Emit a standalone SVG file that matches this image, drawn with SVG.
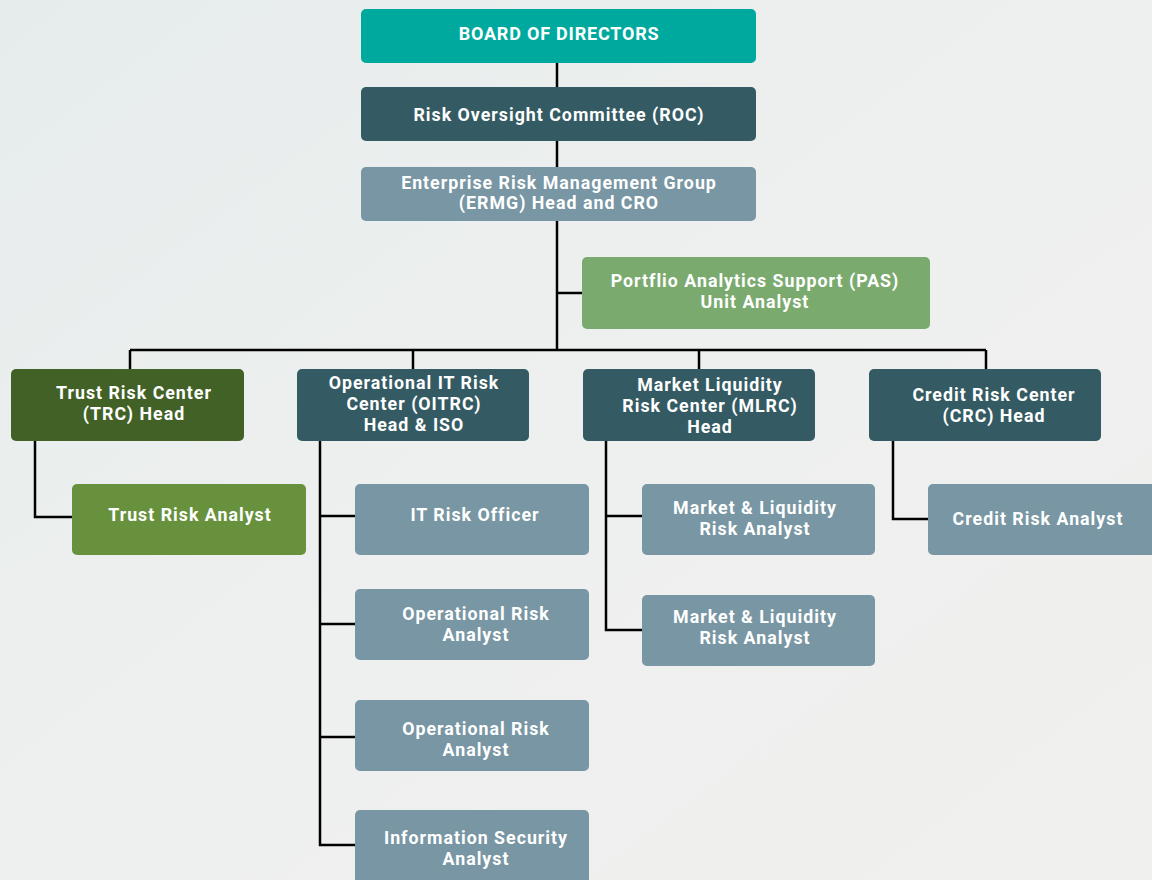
<svg xmlns="http://www.w3.org/2000/svg" width="1152" height="880" viewBox="0 0 1152 880">
<defs>
<linearGradient id="bg" x1="0" y1="0" x2="1" y2="1">
<stop offset="0" stop-color="#e6ecec"/>
<stop offset="0.5" stop-color="#eef0ef"/>
<stop offset="1" stop-color="#f0f0ee"/>
</linearGradient>
<style>
.n{stroke:none}
.teal{fill:#00a99d}
.dark{fill:#345b63}
.slate{fill:#7896a3}
.lgreen{fill:#7baa6f}
.dgreen{fill:#426126}
.mgreen{fill:#67913d}
.t{font-family:"Roboto","Liberation Sans",sans-serif;font-weight:700;font-size:17.8px;letter-spacing:1px;fill:#ffffff;text-anchor:middle}
.caps{font-size:18px;letter-spacing:0.8px}
.c{fill:none;stroke:#000000;stroke-width:2.5}
</style>
</defs>
<rect width="1152" height="880" fill="url(#bg)"/>
<g id="connectors">
<path class="c" d="M557 63V350M557 293H582M130 350H986M130 350V369M413 350V369M699 350V369M986 350V369"/>
<path class="c" d="M35 441V517H72"/>
<path class="c" d="M320 441V845H355M320 516H355M320 624H355M320 737H355"/>
<path class="c" d="M606 441V630H642M606 516H642"/>
<path class="c" d="M893 441V519H928"/>
</g>
<g id="board"><rect class="n teal" x="361" y="9" width="395" height="54" rx="5"/><text class="t caps" x="559" y="40">BOARD OF DIRECTORS</text></g>
<g id="roc"><rect class="n dark" x="361" y="87" width="395" height="54" rx="5"/><text class="t" x="559" y="121">Risk Oversight Committee (ROC)</text></g>
<g id="ermg"><rect class="n slate" x="361" y="167" width="395" height="54" rx="5"/><text class="t" x="559" y="189">Enterprise Risk Management Group</text><text class="t" x="559" y="209">(ERMG) Head and CRO</text></g>
<g id="pas"><rect class="n lgreen" x="582" y="257" width="348" height="72" rx="5"/><text class="t" x="755" y="287">Portflio Analytics Support (PAS)</text><text class="t" x="755" y="308">Unit Analyst</text></g>
<g id="trc"><rect class="n dgreen" x="11" y="369" width="233" height="72" rx="5"/><text class="t" x="134" y="399">Trust Risk Center</text><text class="t" x="134" y="420">(TRC) Head</text></g>
<g id="oitrc"><rect class="n dark" x="297" y="369" width="232" height="72" rx="5"/><text class="t" x="414" y="389">Operational IT Risk</text><text class="t" x="414" y="410">Center (OITRC)</text><text class="t" x="414" y="431">Head &amp; ISO</text></g>
<g id="mlrc"><rect class="n dark" x="583" y="369" width="232" height="72" rx="5"/><text class="t" x="710" y="391">Market Liquidity</text><text class="t" x="710" y="412">Risk Center (MLRC)</text><text class="t" x="710" y="433">Head</text></g>
<g id="crc"><rect class="n dark" x="869" y="369" width="232" height="72" rx="5"/><text class="t" x="994" y="401">Credit Risk Center</text><text class="t" x="994" y="422">(CRC) Head</text></g>
<g id="trust-analyst"><rect class="n mgreen" x="72" y="484" width="234" height="71" rx="5"/><text class="t" x="190" y="521">Trust Risk Analyst</text></g>
<g id="it-risk-officer"><rect class="n slate" x="355" y="484" width="234" height="71" rx="5"/><text class="t" x="475" y="521">IT Risk Officer</text></g>
<g id="op-risk-1"><rect class="n slate" x="355" y="589" width="234" height="71" rx="5"/><text class="t" x="476" y="620">Operational Risk</text><text class="t" x="476" y="641">Analyst</text></g>
<g id="op-risk-2"><rect class="n slate" x="355" y="700" width="234" height="71" rx="5"/><text class="t" x="476" y="735">Operational Risk</text><text class="t" x="476" y="756">Analyst</text></g>
<g id="info-sec"><rect class="n slate" x="355" y="810" width="234" height="75" rx="5"/><text class="t" x="476" y="844">Information Security</text><text class="t" x="476" y="865">Analyst</text></g>
<g id="ml-analyst-1"><rect class="n slate" x="642" y="484" width="233" height="71" rx="5"/><text class="t" x="755" y="514">Market &amp; Liquidity</text><text class="t" x="755" y="535">Risk Analyst</text></g>
<g id="ml-analyst-2"><rect class="n slate" x="642" y="595" width="233" height="71" rx="5"/><text class="t" x="755" y="623">Market &amp; Liquidity</text><text class="t" x="755" y="644">Risk Analyst</text></g>
<g id="credit-analyst"><rect class="n slate" x="928" y="484" width="234" height="71" rx="5"/><text class="t" x="1038" y="525">Credit Risk Analyst</text></g>
</svg>
